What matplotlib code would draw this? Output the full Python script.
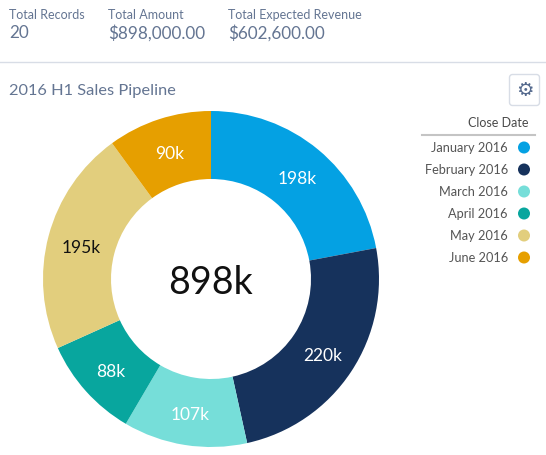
import matplotlib
matplotlib.use('Agg')
import numpy as np
import matplotlib.pyplot as plt
from matplotlib.patches import FancyBboxPatch, Circle
plt.rcParams['font.family'] = ['Lato', 'DejaVu Sans']

months = ['January 2016', 'February 2016', 'March 2016', 'April 2016', 'May 2016', 'June 2016']
amounts = [198, 220, 107, 88, 195, 90]
total = 898
colors = ['#04a1e3', '#16325c', '#76ded9', '#08a69e', '#e2ce7d', '#e69f00']
label_colors = ['white', 'white', 'white', 'white', '#111111', 'white']
summary_titles = ['Total Records', 'Total Amount', 'Total Expected Revenue']
summary_values = ['20', '$898,000.00', '$602,600.00']

W, H = 546, 456
fig = plt.figure(figsize=(W / 100, H / 100), dpi=100)

# overlay in pixel coords for the header and legend
bg = fig.add_axes([0, 0, 1, 1])
bg.set_xlim(0, W)
bg.set_ylim(H, 0)
bg.axis('off')

# donut
cx, cy, r = 211, 280, 168
ax = fig.add_axes([(cx - r) / W, 1 - (cy + r) / H, 2 * r / W, 2 * r / H])
wedges, _ = ax.pie(amounts, colors=colors, startangle=90, counterclock=False, radius=1,
                   wedgeprops={'width': 68 / 168, 'linewidth': 0})
ax.set_xlim(-1, 1)
ax.set_ylim(-1, 1)
for w, val, c in zip(wedges, amounts, label_colors):
    mid = np.deg2rad((w.theta1 + w.theta2) / 2)
    ax.text(0.8 * np.cos(mid), 0.8 * np.sin(mid) - 0.012, f'{val}k', color=c, fontsize=12.5,
            ha='center', va='center')
ax.text(0, -0.015, f'{total}k', color='#111111', fontsize=27, ha='center', va='center')

# summary
for x, t, v in zip([9, 108, 228], summary_titles, summary_values):
    bg.text(x, 15, t, color='#647592', fontsize=9, va='center')
    bg.text(x, 33.5, v, color='#647592', fontsize=12.3, va='center')
bg.plot([0, W], [62.5, 62.5], color='#d8dde6', lw=1)
bg.text(9, 90.5, '2016 H1 Sales Pipeline', color='#647592', fontsize=11.8, va='center')

# settings button
bg.add_patch(FancyBboxPatch((509.5, 75.5), 30, 31, boxstyle='round,pad=0,rounding_size=3',
                            fc='white', ec='#d8dde6', lw=1))
bg.text(525, 91, '\u2699', color='#54698d', fontsize=14, ha='center', va='center',
        family='DejaVu Sans')

# legend
bg.text(529, 123.5, 'Close Date', color='#4a4a4a', fontsize=9, ha='right', va='center')
bg.plot([422, 535], [136, 136], color='#c4c4c4', lw=1.5)
for i, (m, c) in enumerate(zip(months, colors)):
    y = 148.5 + i * 22
    bg.text(508, y, m, color='#555555', fontsize=9.2, ha='right', va='center')
    bg.add_patch(Circle((524, y), 6, fc=c, ec='none'))

fig.savefig('out.png', dpi=100)
